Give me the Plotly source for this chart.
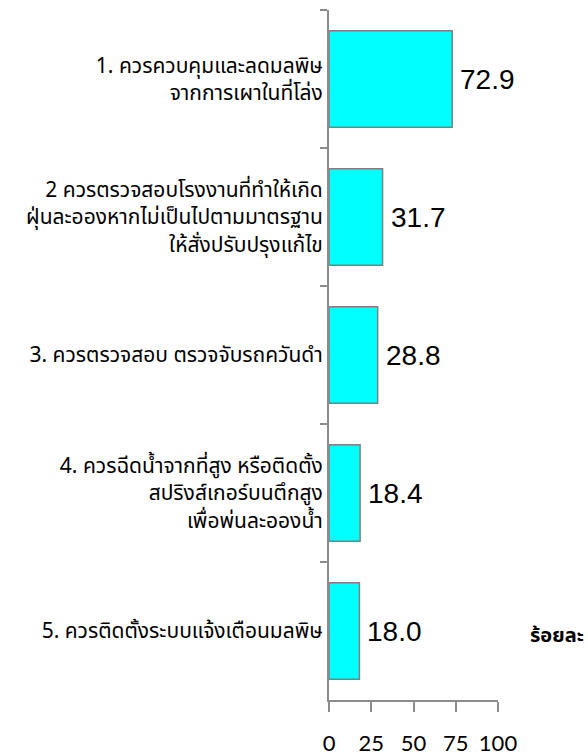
import plotly.graph_objects as go

categories = [
    "1. ควรควบคุมและลดมลพิษ<br>จากการเผาในที่โล่ง",
    "2 ควรตรวจสอบโรงงานที่ทำให้เกิด<br>ฝุ่นละอองหากไม่เป็นไปตามมาตรฐาน<br>ให้สั่งปรับปรุงแก้ไข",
    "3. ควรตรวจสอบ ตรวจจับรถควันดำ",
    "4. ควรฉีดน้ำจากที่สูง หรือติดตั้ง<br>สปริงส์เกอร์บนตึกสูง<br>เพื่อพ่นละอองน้ำ",
    "5. ควรติดตั้งระบบแจ้งเตือนมลพิษ",
]
values = [72.9, 31.7, 28.8, 18.4, 18.0]
x_ticks = [0, 25, 50, 75, 100]
unit_label = "ร้อยละ"

thai_font = "Noto Sans Thai, Noto Sans, Loma, sans-serif"
num_font = "Liberation Sans, Arial, sans-serif"
tick_font = "Lato, Noto Sans, sans-serif"
axis_gray = "#8c8c8c"

fig = go.Figure()
fig.add_trace(go.Bar(
    x=values,
    y=categories,
    orientation="h",
    width=0.7,
    marker=dict(color="#00FFFF", line=dict(color="#7f7f7f", width=1.5)),
    hoverinfo="skip",
))

for v, c in zip(values, categories):
    fig.add_annotation(
        x=v, y=c, xref="x", yref="y",
        text=f"{v:.1f}", showarrow=False,
        xanchor="left", yanchor="middle", xshift=6,
        font=dict(family=num_font, size=28, color="black"),
    )

fig.add_annotation(
    x=1.0, y=0.093, xref="paper", yref="paper",
    text=f"<b>{unit_label}</b>", showarrow=False,
    xanchor="left", yanchor="middle", xshift=30,
    font=dict(family=thai_font, size=20, color="black"),
)

fig.update_xaxes(
    range=[0, 100],
    tickmode="array", tickvals=x_ticks, ticktext=[str(t) for t in x_ticks],
    ticks="outside", ticklen=10, tickwidth=2, tickcolor=axis_gray,
    showline=True, linecolor=axis_gray, linewidth=2,
    showgrid=False, zeroline=False,
    ticklabelstandoff=13,
    tickfont=dict(family=tick_font, size=22, color="black"),
)
fig.update_yaxes(
    type="category",
    categoryorder="array", categoryarray=categories,
    range=[4.5, -0.5],
    tickson="boundaries",
    ticks="outside", ticklen=7, tickwidth=2, tickcolor=axis_gray,
    showline=True, linecolor=axis_gray, linewidth=2,
    showgrid=False, zeroline=False,
    tickfont=dict(family=thai_font, size=21, color="black"),
)

fig.update_layout(
    width=588, height=756,
    margin=dict(l=329, r=90, t=10, b=56, autoexpand=False),
    paper_bgcolor="white", plot_bgcolor="white",
    showlegend=False,
)

# remove the browser's default page margin so the figure fills the window exactly
fig.write_html(
    "out.html",
    config={"displayModeBar": False, "staticPlot": True},
    post_script="document.body.style.margin='0';document.body.style.overflow='hidden';",
)
